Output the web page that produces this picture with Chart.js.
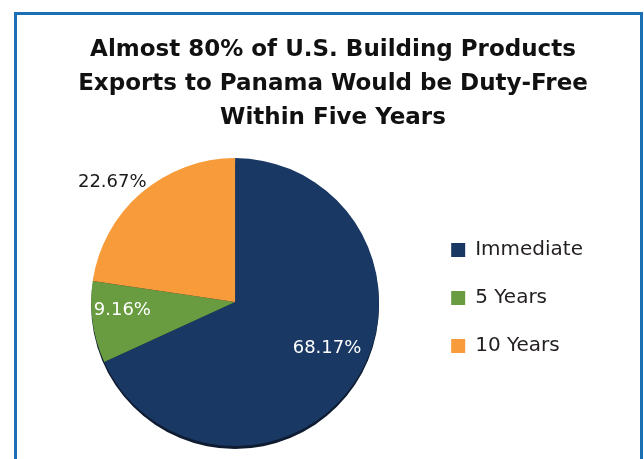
<!DOCTYPE html>
<html>
<head>
<meta charset="utf-8">
<script src="https://cdn.jsdelivr.net/npm/chart.js@4/dist/chart.umd.min.js"></script>
<style>
  html, body { margin: 0; padding: 0; background: #fff; overflow: hidden; }
  #wrap { position: relative; width: 644px; height: 459px; }
  #frame { position: absolute; left: 14px; top: 12px; width: 623px; height: 600px;
           border: 3px solid #1c6fb5; box-sizing: content-box; }
  canvas { position: absolute; left: 0; top: 0; }
</style>
</head>
<body>
<div id="wrap">
  <div id="frame"></div>
  <canvas id="panama-pie" width="644" height="459"></canvas>
</div>
<script>
var NAVY = "#1a3864"
var GREEN = "#699b40"
var ORANGE = "#f79b3b"

var categories = ["Immediate", "5 Years", "10 Years"]
var shares = [68.17, 9.16, 22.67]
var sliceColors = [NAVY, GREEN, ORANGE]
var labelColors = ["#ffffff", "#ffffff", "#1a1a1a"]
var labelRadius = [0.715, 0.785, 1.19] // fraction of pie radius
var labelNudge = [-6, 4, -5]            // degrees off the slice middle

var titleLines = [
  "Almost 80% of U.S. Building Products",
  "Exports to Panama Would be Duty-Free",
  "Within Five Years"
]

// empty box right of the legend so the title sits over the whole frame
// (display:false keeps it out of the legend's width share)
var rightGap = {
  id: "rightGap",
  beforeInit: function(chart) {
    Chart.layouts.addBox(chart, {
      position: "right",
      weight: 3000,
      fullSize: true,
      options: { display: false },
      left: 0, top: 0, right: 0, bottom: 0, width: 0, height: 0,
      isHorizontal: function() { return false },
      update: function(maxWidth, maxHeight) { this.width = 26; this.height = maxHeight },
      draw: function() {}
    })
  }
}

// dark rim under the pie
var pieShadow = {
  id: "pieShadow",
  beforeDatasetsDraw: function(chart) {
    var arc = chart.getDatasetMeta(0).data[0]
    if (!arc) return
    var p = arc.getProps(["x", "y", "outerRadius"], true)
    var c = chart.ctx
    c.save()
    c.fillStyle = "#0f1b30"
    c.beginPath()
    c.arc(p.x, p.y + 3, p.outerRadius, 0, Math.PI * 2)
    c.fill()
    c.restore()
  }
}

// percentage labels
var sliceLabels = {
  id: "sliceLabels",
  afterDatasetsDraw: function(chart) {
    var c = chart.ctx
    var meta = chart.getDatasetMeta(0)
    c.save()
    c.font = "18px 'DejaVu Sans'"
    c.textAlign = "center"
    c.textBaseline = "middle"
    meta.data.forEach(function(arc, i) {
      var p = arc.getProps(["x", "y", "startAngle", "endAngle", "outerRadius"], true)
      var mid = (p.startAngle + p.endAngle) / 2 + labelNudge[i] * Math.PI / 180
      var r = p.outerRadius * labelRadius[i]
      c.fillStyle = labelColors[i]
      c.fillText(shares[i].toFixed(2) + "%", p.x + Math.cos(mid) * r, p.y + Math.sin(mid) * r)
    })
    c.restore()
  }
}

var ctx = document.getElementById("panama-pie")
var pieChart = new Chart(ctx, {
  type: "pie",
  data: {
    labels: categories,
    datasets: [{
      data: shares,
      backgroundColor: sliceColors,
      borderWidth: 0,
      hoverOffset: 0
    }]
  },
  options: {
    responsive: false,
    animation: false,
    events: [],
    layout: { padding: { left: 47, right: 25, top: 0, bottom: 13 } },
    plugins: {
      title: {
        display: true,
        text: titleLines,
        color: "#111111",
        font: { family: "DejaVu Sans", weight: "bold", size: 23, lineHeight: 1.48 },
        padding: { top: 33, bottom: 23 }
      },
      legend: {
        position: "right",
        title: { display: true, text: " ", font: { size: 10, lineHeight: 1 }, padding: { top: 140, bottom: 0 } },
        labels: {
          boxWidth: 14,
          boxHeight: 14,
          padding: 28,
          color: "#231f20",
          font: { family: "DejaVu Sans", size: 20 }
        }
      },
      tooltip: { enabled: false }
    }
  },
  plugins: [rightGap, pieShadow, sliceLabels]
})
</script>
</body>
</html>
